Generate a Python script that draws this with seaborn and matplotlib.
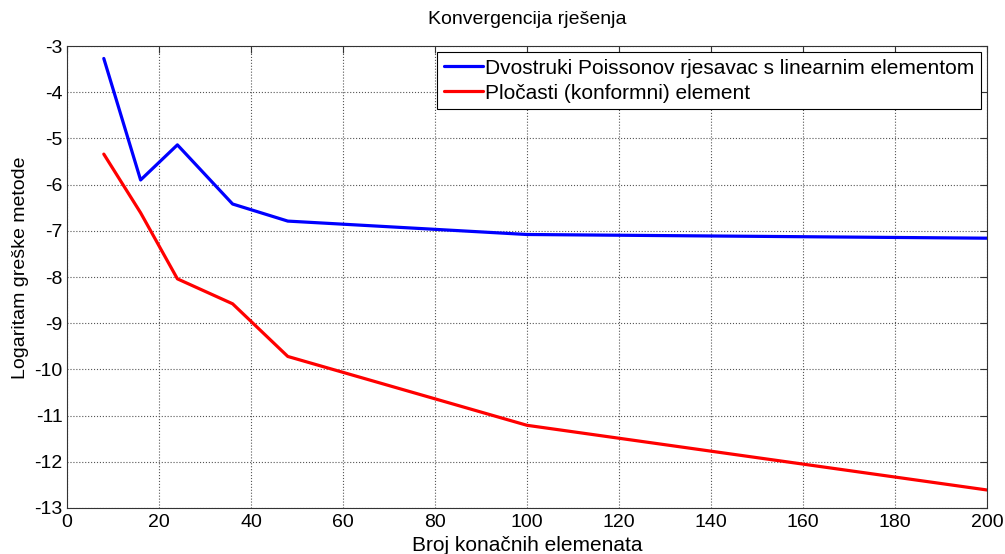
"""
Konvergencija rješenja - MATLAB-like line plot recreated with seaborn
"""

import numpy as np
import pandas as pd
import matplotlib
matplotlib.use('Agg')
import matplotlib.pyplot as plt
import seaborn as sns

# podaci (ocitano sa slike)
x_blue = [8, 16, 24, 36, 48, 100, 200]
y_blue = [-3.27, -5.90, -5.14, -6.42, -6.79, -7.08, -7.16]

x_red = [8, 16, 24, 36, 48, 100, 200]
y_red = [-5.34, -6.61, -8.04, -8.58, -9.72, -11.21, -12.61]

label_blue = 'Dvostruki Poissonov rjesavac s linearnim elementom'
label_red = 'Pločasti (konformni) element'

sns.set_style('white')
plt.rcParams['font.family'] = ['Liberation Sans', 'DejaVu Sans']
plt.rcParams['axes.unicode_minus'] = False  # obicni minus kao u MATLAB-u
plt.rcParams['text.color'] = 'black'
plt.rcParams['axes.labelcolor'] = 'black'
plt.rcParams['xtick.color'] = 'black'
plt.rcParams['ytick.color'] = 'black'

df = pd.concat([
    pd.DataFrame({'x': x_blue, 'y': y_blue, 'metoda': label_blue}),
    pd.DataFrame({'x': x_red, 'y': y_red, 'metoda': label_red}),
], ignore_index=True)

fig = plt.figure(figsize=(10.05, 5.54), dpi=100)
ax = fig.add_axes([67 / 1005, 46 / 554, 920 / 1005, 462 / 554])

sns.lineplot(
    data=df, x='x', y='y', hue='metoda',
    palette={label_blue: '#0000ff', label_red: '#ff0000'},
    linewidth=2.3, sort=False, estimator=None, ax=ax,
)

ax.set_xlim(0, 200)
ax.set_ylim(-13, -3)
ax.set_xticks(np.arange(0, 201, 20))
ax.set_yticks(np.arange(-13, -2, 1))

ax.grid(True, linestyle=':', color='#555555', linewidth=0.8)
for s in ax.spines.values():
    s.set_color('#333333')
    s.set_linewidth(0.8)
ax.tick_params(direction='in', length=5, labelsize=14, top=True, right=True,
               color='#333333', labelcolor='black')
ax.tick_params(axis='x', pad=4)
ax.tick_params(axis='y', pad=3)

ax.set_title('Konvergencija rješenja', fontsize=14, pad=16, color='black')
ax.set_xlabel('Broj konačnih elemenata', fontsize=15, labelpad=4)
ax.set_ylabel('Logaritam greške metode', fontsize=14)
ax.yaxis.set_label_coords(-0.041, 0.52)

leg = ax.legend(loc='upper right', fontsize=15, frameon=True, fancybox=False,
                edgecolor='black', framealpha=1, handlelength=1.9,
                handletextpad=0.1, borderaxespad=0.3, borderpad=0.3,
                labelspacing=0.3)
leg.get_frame().set_linewidth(0.8)

plt.savefig('out.png', dpi=100)
plt.close()
